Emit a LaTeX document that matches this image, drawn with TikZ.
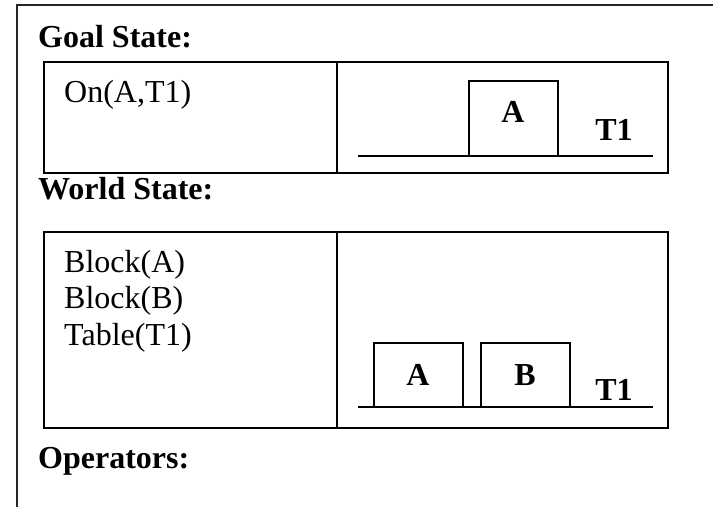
\documentclass[tikz,border=0pt]{standalone}
\usepackage{fontspec}
\setmainfont{Liberation Serif}
\begin{document}
\begin{tikzpicture}[x=1pt,y=-1pt,
  frame/.style={draw=black!85,line width=1.4pt},
  panel/.style={draw=black,line width=1.4pt},
  blockbox/.style={draw=black,line width=1.4pt,rectangle,inner sep=0pt},
  tableline/.style={draw=black,line width=1.4pt},
  heading/.style={anchor=base west,inner sep=0pt,font=\fontsize{32}{38}\selectfont\bfseries},
  fact/.style={anchor=base west,inner sep=0pt,font=\fontsize{32}{38}\selectfont},
  blocklabel/.style={anchor=base,inner sep=0pt,font=\fontsize{32}{38}\selectfont\bfseries}]
\useasboundingbox (0,0) rectangle (713,507);
\fill[white] (0,0) rectangle (713,507);

% outer frame: top and left edges only
\draw[frame] (713,5) -- (17,5) -- (17,507);

% ---------- goal state ----------
\node[heading] (goalhead) at (38,47) {Goal State:};
\draw[panel] (44,62) rectangle (668,173);
\draw[panel] (337,62) -- (337,173);
\node[fact] (goalfact) at (64,102) {On(A,T1)};
\node[blockbox,minimum width=89pt,minimum height=75pt] (gA) at (513.5,118.5) {};
\coordinate (gTl) at (358,156);
\coordinate (gTr) at (653,156);
\draw[tableline] (gTl) -- (gTr);
\node[blocklabel] (gAlbl) at (513,122) {A};
\node[blocklabel] (gT1) at (614,140) {T1};

% ---------- world state ----------
\node[heading] (worldhead) at (38,199) {World State:};
\draw[panel] (44,232) rectangle (668,428);
\draw[panel] (337,232) -- (337,428);
\node[fact] (f1) at (64,272) {Block(A)};
\node[fact] (f2) at (64,308) {Block(B)};
\node[fact] (f3) at (64,345) {Table(T1)};
\node[blockbox,minimum width=89pt,minimum height=64pt] (wA) at (418.5,375) {};
\node[blockbox,minimum width=89pt,minimum height=64pt] (wB) at (525.5,375) {};
\coordinate (wTl) at (358,407);
\coordinate (wTr) at (653,407);
\draw[tableline] (wTl) -- (wTr);
\node[blocklabel] (wAlbl) at (418,385) {A};
\node[blocklabel] (wBlbl) at (525,385) {B};
\node[blocklabel] (wT1) at (614,400) {T1};

% ---------- operators ----------
\node[heading] (ophead) at (38,468) {Operators:};
\end{tikzpicture}
\end{document}
